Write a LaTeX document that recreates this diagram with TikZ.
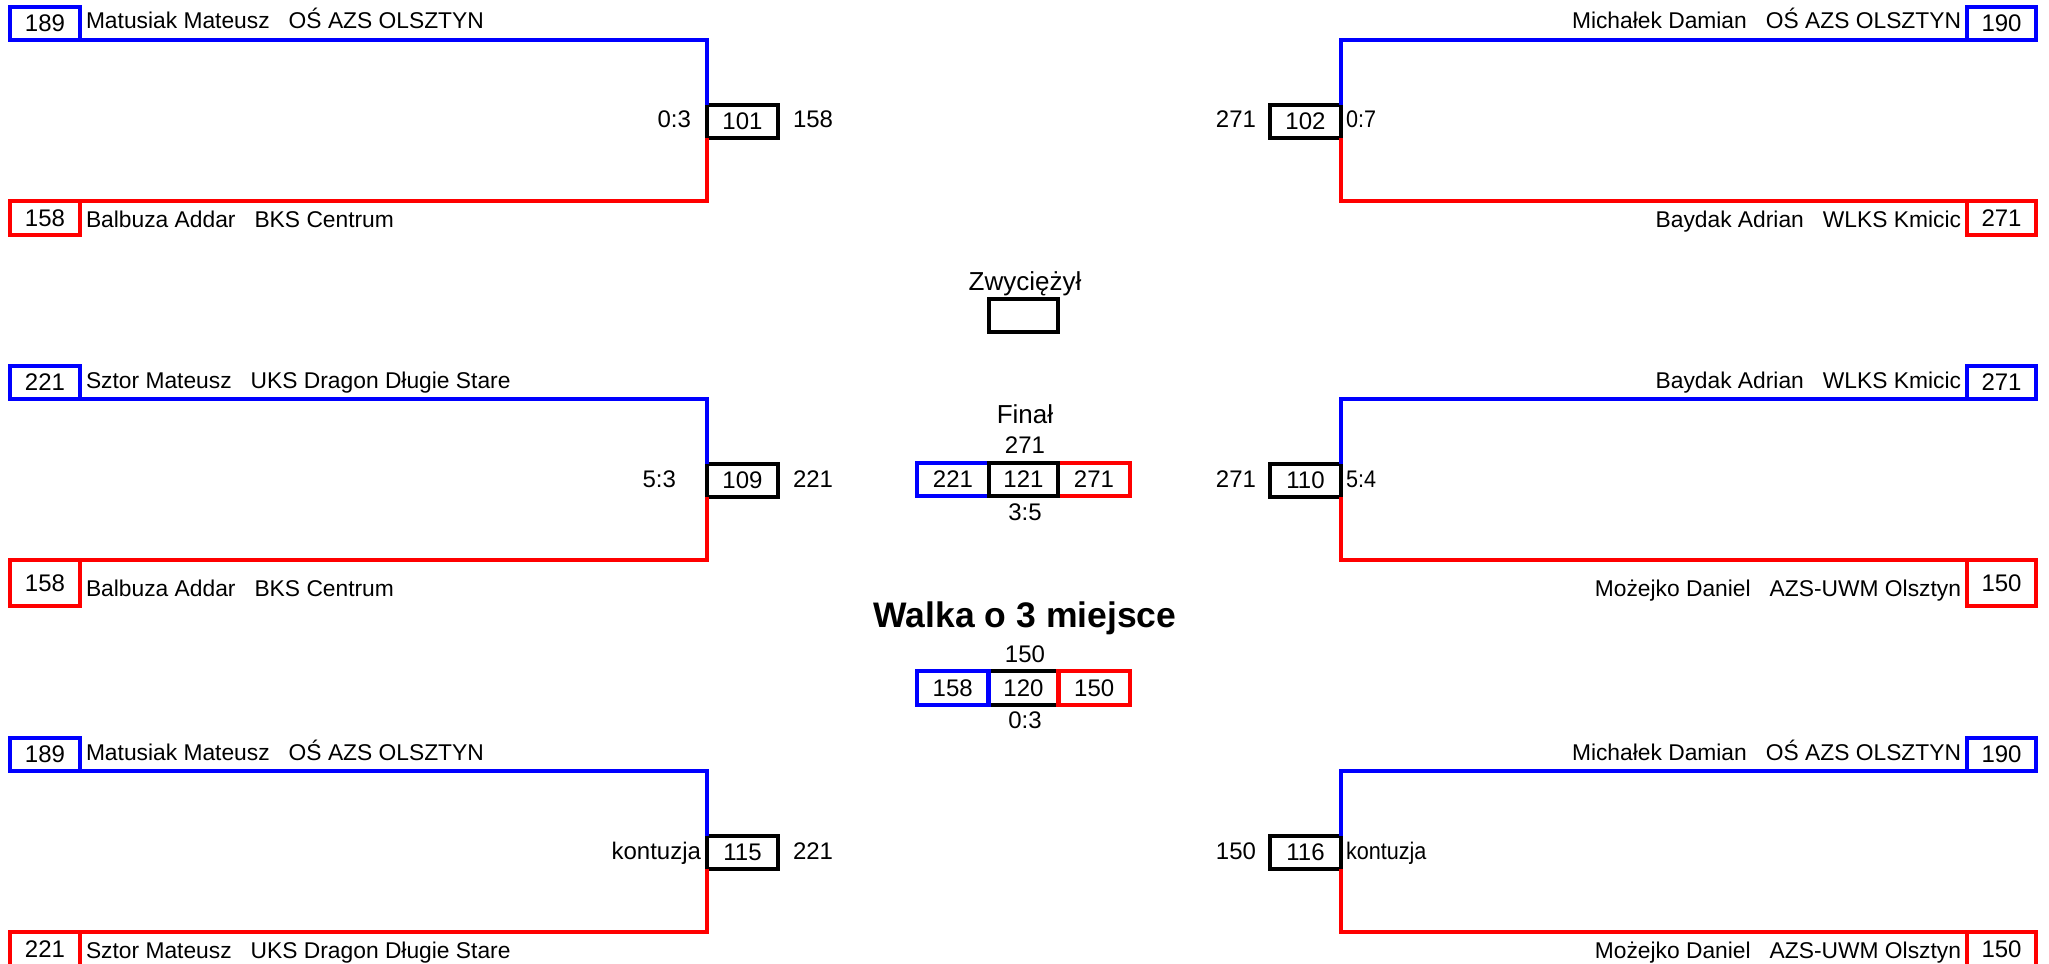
\documentclass[tikz,border=0pt]{standalone}
\usepackage{fontspec}
\setmainfont{Liberation Sans}
\tikzset{
  txt/.style={font=\fontsize{22.8}{27}\selectfont, inner sep=0pt, outer sep=0pt},
  num/.style={font=\fontsize{24}{28}\selectfont, inner sep=0pt, outer sep=0pt},
  lbl/.style={font=\fontsize{26}{30}\selectfont, inner sep=0pt, outer sep=0pt},
  bx/.style={num, draw, line width=4.5pt, outer sep=0pt, minimum height=33pt},
  bluebox/.style={bx, draw=blue},
  redbox/.style={bx, draw=red},
  blackbox/.style={bx, draw=black},
  bline/.style={draw=blue, line width=4.5pt},
  rline/.style={draw=red, line width=4.5pt},
}
\newcommand\NmGap{\hspace{0.834em}}
\newcommand\LBr[9]{%
  \node[bluebox, minimum width=70pt] (#2a) at (45,{23.5+#1}) {#3};
  \node[txt, anchor=base west] (#2an) at (86,{29+#1}) {#4};
  \node[redbox, minimum width=70pt, minimum height=\rtwoh pt] (#2b) at (45,{201+#1+0.5*\rtwoh}) {#5};
  \node[txt, anchor=base west] (#2bn) at (86,{\rtwob+#1}) {#6};
  \node[blackbox, minimum width=71pt] (#2m) at (742.5,{121.5+#1}) {#7};
  \node[num, anchor=base east] (#2s) at (\sx,{128+#1}) {#8};
  \node[num, anchor=base west] (#2w) at (793,{128+#1}) {#9};
  \draw[bline] (#2a.south east) -| (#2m.north west);
  \draw[rline] (#2b.north east) -| (#2m.south west);
}
\newcommand\RBr[9]{%
  \node[bluebox, minimum width=69pt] (#2a) at (2001.5,{23.5+#1}) {#3};
  \node[txt, anchor=base east] (#2an) at (1961,{29+#1}) {#4};
  \node[redbox, minimum width=69pt, minimum height=\rtwoh pt] (#2b) at (2001.5,{201+#1+0.5*\rtwoh}) {#5};
  \node[txt, anchor=base east] (#2bn) at (1961,{\rtwob+#1}) {#6};
  \node[blackbox, minimum width=71pt] (#2m) at (1305.5,{121.5+#1}) {#7};
  \node[num, anchor=base west] (#2s) at (1346,{128+#1}) {\scalebox{0.9}[1]{#8}};
  \node[num, anchor=base east] (#2w) at (1256,{128+#1}) {#9};
  \draw[bline] (#2a.south west) -| (#2m.north east);
  \draw[rline] (#2b.north west) -| (#2m.south east);
}
\begin{document}
\begin{tikzpicture}[x=1pt,y=-1pt]
\useasboundingbox (0,0) rectangle (2049,963);
\fill[white] (0,0) rectangle (2049,963);
\clip (0,0) rectangle (2049,963);
% top
\def\rtwoh{34}\def\rtwob{227}\def\sx{691}
\LBr{0}{A}{189}{Matusiak Mateusz\NmGap OŚ AZS OLSZTYN}{158}{Balbuza Addar\NmGap BKS Centrum}{101}{0:3}{158}
\RBr{0}{B}{190}{Michałek Damian\NmGap OŚ AZS OLSZTYN}{271}{Baydak Adrian\NmGap WLKS Kmicic}{102}{0:7}{271}
% middle
\def\rtwoh{46}\def\rtwob{237}\def\sx{676}
\LBr{359}{C}{221}{Sztor Mateusz\NmGap UKS Dragon Długie Stare}{158}{Balbuza Addar\NmGap BKS Centrum}{109}{5:3}{221}
\RBr{359}{D}{271}{Baydak Adrian\NmGap WLKS Kmicic}{150}{Możejko Daniel\NmGap AZS-UWM Olsztyn}{110}{5:4}{271}
% bottom
\def\rtwoh{34}\def\rtwob{227}\def\sx{701}
\LBr{731}{E}{189}{Matusiak Mateusz\NmGap OŚ AZS OLSZTYN}{221}{Sztor Mateusz\NmGap UKS Dragon Długie Stare}{115}{kontuzja}{221}
\RBr{731}{F}{190}{Michałek Damian\NmGap OŚ AZS OLSZTYN}{150}{Możejko Daniel\NmGap AZS-UWM Olsztyn}{116}{kontuzja}{150}
% winner
\node[lbl, anchor=base] (zw) at (1025,290) {Zwyciężył};
\node[blackbox, minimum width=69pt] (zwb) at (1023.5,315.5) {};
% final
\node[lbl, anchor=base] (fin) at (1025,423) {Finał};
\node[num, anchor=base] (finw) at (1025,453) {271};
\node[bluebox, minimum width=72pt] (fb) at (953,479.5) {221};
\node[redbox, minimum width=72pt] (fr) at (1094,479.5) {271};
\node[blackbox, minimum width=69pt] (fm) at (1023.5,479.5) {121};
\node[num, anchor=base] (fs) at (1025,520) {3:5};
% third place
\node[anchor=base, inner sep=0pt, font=\fontsize{35.5}{40}\selectfont\bfseries] (tt) at (1025,627) {Walka o 3 miejsce};
\node[num, anchor=base] (tw) at (1025,662) {150};
\node[blackbox, minimum width=70pt, minimum height=34pt] (tm) at (1023.5,688) {120};
\node[bluebox, minimum width=71.5pt, minimum height=34pt] (tb) at (952.75,688) {158};
\node[redbox, minimum width=71.5pt, minimum height=34pt] (tr) at (1094.25,688) {150};
\node[num, anchor=base] (ts) at (1025,728) {0:3};
\end{tikzpicture}
\end{document}
